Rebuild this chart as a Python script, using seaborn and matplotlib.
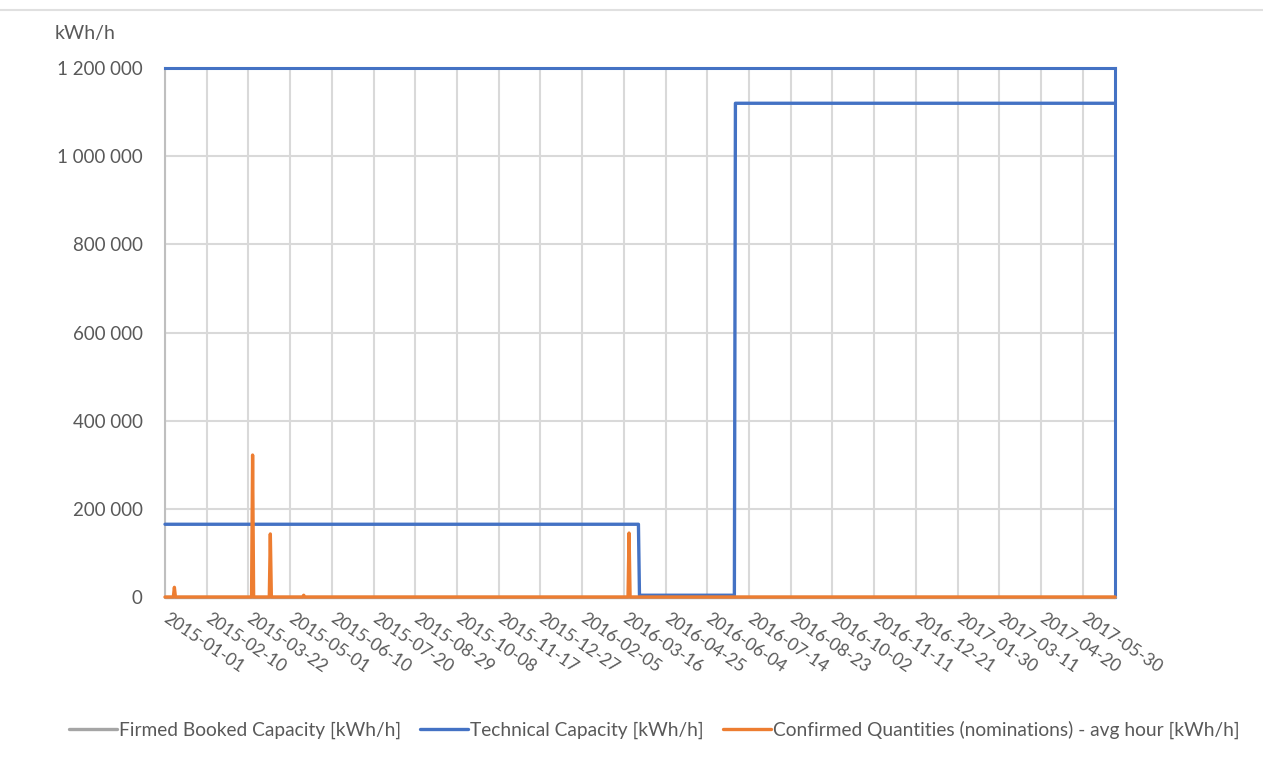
"""Capacity vs. nominations chart (Excel-style) rebuilt with seaborn."""

import matplotlib

matplotlib.use("Agg")
import matplotlib.pyplot as plt
from matplotlib.ticker import FuncFormatter, MultipleLocator
import numpy as np
import pandas as pd
import seaborn as sns

START = "2015-01-01"
END = "2017-06-30"

# technical capacity: value holds from each change date on
tech_change_dates = ["2015-01-01", "2016-03-31", "2016-07-01"]
tech_values = [165000, 4000, 1120000]

# confirmed quantities: zero except for these days
spike_dates = ["2015-01-10", "2015-03-26", "2015-04-12", "2015-05-14", "2016-03-21"]
spike_values = [22000, 322000, 143000, 4000, 145000]

SERIES = [
    "Firmed Booked Capacity [kWh/h]",
    "Technical Capacity [kWh/h]",
    "Confirmed Quantities (nominations) - avg hour [kWh/h]",
]
COLORS = ["#A5A5A5", "#4472C4", "#ED7D31"]
TEXT = "#595959"

days = pd.date_range(START, END, freq="D")
idx = np.searchsorted(pd.to_datetime(tech_change_dates).values, days.values, side="right") - 1
tech = np.asarray(tech_values)[idx]
confirmed = pd.Series(0.0, index=days)
confirmed.loc[pd.to_datetime(spike_dates)] = spike_values
firmed = np.zeros(len(days))

df = pd.concat(
    [
        pd.DataFrame({"date": days, "value": firmed, "series": SERIES[0]}),
        pd.DataFrame({"date": days, "value": tech, "series": SERIES[1]}),
        pd.DataFrame({"date": days, "value": confirmed.values, "series": SERIES[2]}),
    ],
    ignore_index=True,
)

sns.set_style("white")
plt.rcParams["font.family"] = ["Lato", "DejaVu Sans"]

fig = plt.figure(figsize=(12.63, 7.74), dpi=100)
ax = fig.add_axes([165 / 1263, 1 - 597 / 774, (1115 - 165) / 1263, (597 - 68) / 774])

sns.lineplot(
    data=df,
    x="date",
    y="value",
    hue="series",
    hue_order=SERIES,
    palette=COLORS,
    linewidth=2.4,
    estimator=None,
    ax=ax,
)
for line in ax.lines:
    line.set_clip_on(False)
    line.set_zorder(3)

ax.set_xlim(pd.Timestamp(START), pd.Timestamp(END))
ax.set_ylim(0, 1200000)
ax.yaxis.set_major_locator(MultipleLocator(200000))
ax.yaxis.set_major_formatter(FuncFormatter(lambda v, _: f"{v:,.0f}".replace(",", " ")))

ticks = pd.date_range(START, END, freq="40D")
ax.set_xticks(ticks)
ax.set_xticklabels([t.strftime("%Y-%m-%d") for t in ticks])
for lab in ax.get_xticklabels():
    lab.set_rotation(-34)
    lab.set_rotation_mode("anchor")
    lab.set_ha("left")
    lab.set_va("center")
ax.tick_params(axis="x", length=0, pad=14, labelsize=12.5, colors=TEXT)
ax.tick_params(axis="y", length=0, pad=16, labelsize=13.5, colors=TEXT)

ax.grid(True, color="#d9d9d9", linewidth=1.5)
ax.set_axisbelow(True)
ax.set_xlabel("")
ax.set_ylabel("")

ax.spines["left"].set_color("#bfbfbf")
ax.spines["left"].set_linewidth(1.5)
ax.spines["bottom"].set_visible(False)
for side in ["top", "right"]:
    ax.spines[side].set_color(COLORS[1])
    ax.spines[side].set_linewidth(2.2)

fig.text(55 / 1263, 1 - 33 / 774, "kWh/h", fontsize=14, color=TEXT, va="center")

handles, labels = ax.get_legend_handles_labels()
ax.legend_.remove()
fig.legend(
    handles,
    labels,
    loc="center left",
    bbox_to_anchor=(52 / 1263, 1 - 730 / 774),
    ncol=3,
    frameon=False,
    fontsize=13.8,
    labelcolor=TEXT,
    handlelength=2.5,
    handletextpad=0.1,
    columnspacing=1.0,
)

fig.add_artist(plt.Line2D([0, 1], [1 - 10 / 774, 1 - 10 / 774], color="#e0e0e0", linewidth=1.5))

fig.savefig("out.png", dpi=100)
